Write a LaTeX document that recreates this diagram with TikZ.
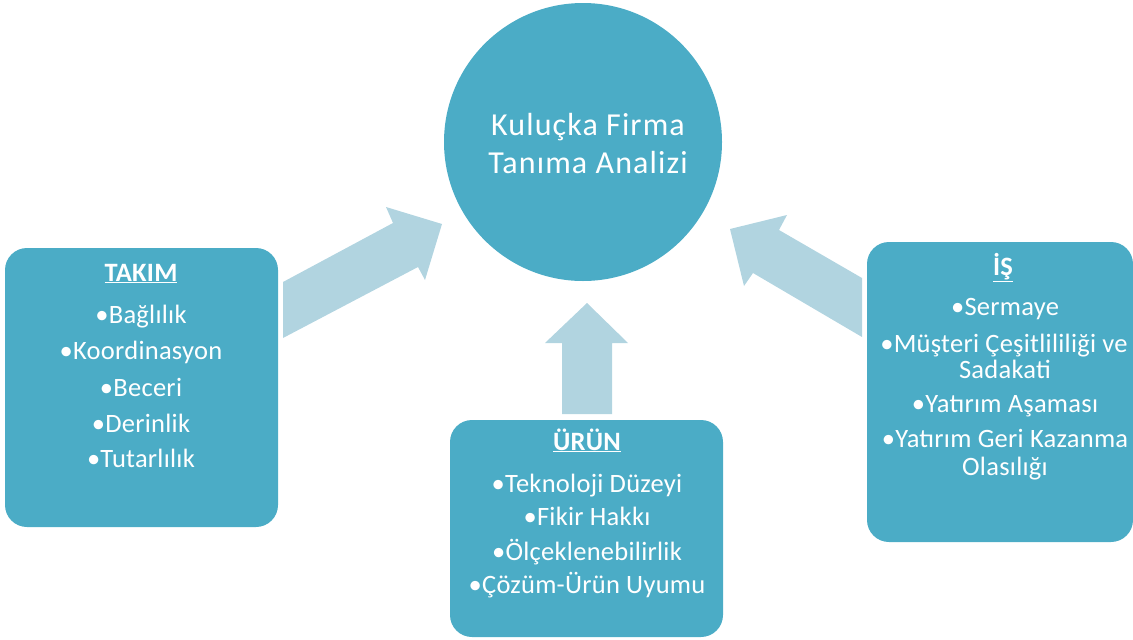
\documentclass[tikz,border=0pt]{standalone}
\usepackage{fontspec}
\setmainfont{Carlito}[LetterSpace=1]
\newfontfamily\hubfont{Carlito}[LetterSpace=3.5]
\definecolor{boxblue}{RGB}{75,172,198}
\definecolor{arrowblue}{RGB}{177,212,224}
\begin{document}
\begin{tikzpicture}[x=1pt,y=-1pt,
  panel/.style={fill=boxblue, draw=none, rounded corners=22pt, inner sep=0pt},
  hub/.style={circle, fill=boxblue, draw=none, inner sep=0pt, minimum size=278pt},
  blockarrow/.style={fill=arrowblue, draw=none},
  txt/.style={text=white, anchor=base, inner sep=0pt, font=\fontsize{26.5}{30}\selectfont},
  head/.style={txt, font=\fontsize{26.5}{30}\selectfont\bfseries},
  big/.style={txt, font=\hubfont\fontsize{32}{36}\selectfont}]
\useasboundingbox (0,0) rectangle (1133,640);
% panels
\node[panel, minimum width=273pt, minimum height=279pt] (takim) at (141.5,387.5) {};
\node[panel, minimum width=266pt, minimum height=300pt] (is) at (1000,392) {};
\node[panel, minimum width=273pt, minimum height=217pt] (urun) at (586.5,528.5) {};
\node[hub] (hub) at (583,142) {};
% arrows
\coordinate (la) at (283,282);
\draw[blockarrow] (la) -- (393,223) -- (386,207) -- (442,224) -- (425,280) -- (418,267) -- (283,338) -- cycle;
\coordinate (ra) at (862,278);
\draw[blockarrow] (ra) -- (779,230) -- (787,215) -- (730,229) -- (744,286) -- (753,273) -- (862,337) -- cycle;
\coordinate (ua) at (562,414);
\draw[blockarrow] (ua) -- (562,343) -- (545,343) -- (587,303) -- (628,343) -- (612,343) -- (612,414) -- cycle;
% hub text
\node[big] (h1) at (588,135) {Kuluçka Firma};
\node[big] (h2) at (588,173) {Tanıma Analizi};
% TAKIM
\node[head] (a0) at (141,281) {\underline{TAKIM}};
\node[txt] (a1) at (141,323) {•Bağlılık};
\node[txt] (a2) at (141,359) {•Koordinasyon};
\node[txt] (a3) at (141,396) {•Beceri};
\node[txt] (a4) at (141,432) {•Derinlik};
\node[txt] (a5) at (141,467) {•Tutarlılık};
% IS
\node[head] (b0) at (1003,275) {\underline{İŞ}};
\node[txt] (b1) at (1005,315) {•Sermaye};
\node[txt] (b2) at (1004,352) {•Müşteri Çeşitlililiği ve};
\node[txt] (b3) at (1005,378) {Sadakati};
\node[txt] (b4) at (1005,412) {•Yatırım Aşaması};
\node[txt] (b5) at (1005,447) {•Yatırım Geri Kazanma};
\node[txt] (b6) at (1005,475) {Olasılığı};
% URUN
\node[head] (c0) at (587,450) {\underline{ÜRÜN}};
\node[txt] (c1) at (587,492) {•Teknoloji Düzeyi};
\node[txt] (c2) at (587,525) {•Fikir Hakkı};
\node[txt] (c3) at (587,560) {•Ölçeklenebilirlik};
\node[txt] (c4) at (587,593) {•Çözüm-Ürün Uyumu};
\end{tikzpicture}
\end{document}
